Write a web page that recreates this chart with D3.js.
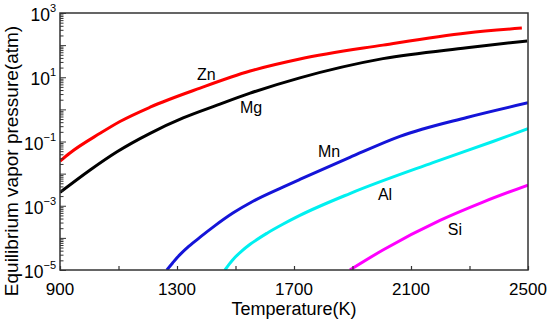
<!DOCTYPE html>
<html><head><meta charset="utf-8">
<script src="https://cdn.jsdelivr.net/npm/d3@7"></script>
<style>body{margin:0;background:#fff}svg{display:block}text{font-family:"Liberation Sans",Arial,sans-serif;fill:#000}</style>
</head><body>
<script>
// Temperature (K) and equilibrium vapor pressure (atm)
const znT = [900, 934, 1037, 1105, 1208, 1379, 1550, 1720, 2004, 2291, 2479];
const znP = [0.0245, 0.044, 0.18, 0.42, 1.17, 4.6, 15.6, 37, 100, 240, 340];
const mgT = [900, 1003, 1095, 1208, 1321, 1437, 1550, 1720, 2004, 2291, 2497];
const mgP = [0.0026, 0.013, 0.048, 0.18, 0.54, 1.35, 3.2, 9.6, 38, 83, 135];
const mnT = [1265, 1285, 1300, 1340, 1379, 1430, 1491, 1560, 1662, 1720, 1891, 2062, 2291, 2500];
const mnP = [1e-5, 1.66e-5, 2.4e-5, 5.4e-5, 1.05e-4, 2.4e-4, 5.9e-4, 1.38e-3, 3.8e-3, 6.6e-3, 0.032, 0.145, 0.56, 1.6];
const alT = [1464, 1480, 1491, 1520, 1550, 1608, 1660, 1720, 1891, 2175, 2380, 2500];
const alP = [1e-5, 1.58e-5, 2.1e-5, 3.8e-5, 6.3e-5, 1.4e-4, 2.6e-4, 5.0e-4, 2.4e-3, 0.022, 0.1, 0.25];
const siT = [1891, 2004, 2199, 2346, 2500];
const siP = [1e-5, 4.2e-5, 3.5e-4, 1.3e-3, 4.4e-3];
const seriesNames = ["Zn", "Mg", "Mn", "Al", "Si"];
const seriesColors = ["#ff0000", "#000000", "#1414d8", "#00f0f0", "#ff00ff"];
const labelT = [1368, 1515, 1782, 1987, 2226];
const labelP = [8.2, 0.77, 0.032, 1.5e-3, 1.2e-4];
const xTickValues = [900, 1300, 1700, 2100, 2500];
const yTickExps = [-5, -3, -1, 1, 3];

const W = 550, H = 320;
const m = {l: 60, r: 528, t: 13, b: 270};
const svg = d3.select("body").append("svg").attr("width", W).attr("height", H);
const x = d3.scaleLinear().domain([900, 2500]).range([m.l, m.r]);
const y = d3.scaleLog().domain([1e-5, 1e3]).range([m.b, m.t]);

svg.append("clipPath").attr("id", "clip").append("rect")
  .attr("x", m.l).attr("y", m.t).attr("width", m.r - m.l).attr("height", m.b - m.t);

const allT = [znT, mgT, mnT, alT, siT];
const allP = [znP, mgP, mnP, alP, siP];
const line = d3.line().x(d => x(d[0])).y(d => y(d[1])).curve(d3.curveMonotoneX);
const g = svg.append("g").attr("clip-path", "url(#clip)");
seriesNames.forEach((n, i) => {
  const pts = allT[i].map((t, j) => [t, allP[i][j]]);
  g.append("path").datum(pts).attr("d", line).attr("fill", "none")
    .attr("stroke", seriesColors[i]).attr("stroke-width", 3).attr("stroke-linejoin", "round");
});

// labels
seriesNames.forEach((n, i) => {
  svg.append("text").attr("x", x(labelT[i])).attr("y", y(labelP[i]))
    .attr("font-size", 16).text(n);
});

// frame
svg.append("rect").attr("x", m.l).attr("y", m.t).attr("width", m.r - m.l).attr("height", m.b - m.t)
  .attr("fill", "none").attr("stroke", "#333").attr("stroke-width", 1.5);

// x axis ticks (inward)
const xAxis = d3.axisBottom(x).tickValues(d3.range(900, 2501, 200)).tickSize(-4).tickFormat("");
const gx = svg.append("g").attr("transform", `translate(0,${m.b})`).call(xAxis);
gx.select(".domain").remove();
gx.selectAll("line").attr("stroke", "#333").attr("stroke-width", 1.2);
xTickValues.forEach(v => {
  svg.append("text").attr("x", x(v)).attr("y", 295).attr("text-anchor", "middle")
    .attr("font-size", 17).text(v);
});

// y axis ticks (inward) with log minor ticks
const minor = [];
for (let e = -5; e < 3; e++) for (let k = 1; k < 10; k++) minor.push(k * Math.pow(10, e));
minor.push(1000);
const yAxis = d3.axisLeft(y).tickValues(minor).tickSize(0).tickFormat("");
const gy = svg.append("g").attr("transform", `translate(${m.l},0)`).call(yAxis);
gy.select(".domain").remove();
gy.selectAll(".tick line").attr("x2", d => {
  const l = Math.log10(d);
  return Math.abs(l - Math.round(l)) < 1e-9 ? 6 : 3.5;
}).attr("stroke", "#333").attr("stroke-width", 1);

yTickExps.forEach(e => {
  const t = svg.append("text").attr("x", 56).attr("y", y(Math.pow(10, e)) + 8)
    .attr("text-anchor", "end").attr("font-size", 17.5);
  t.append("tspan").text("10");
  t.append("tspan").attr("font-size", 11).attr("dy", -9).text(e < 0 ? "\u2212" + (-e) : String(e));
});

// axis titles
svg.append("text").attr("x", 294).attr("y", 315).attr("text-anchor", "middle")
  .attr("font-size", 18).text("Temperature(K)");
svg.append("text").attr("transform", `translate(17.5,161) rotate(-90)`)
  .attr("text-anchor", "middle").attr("font-size", 19).text("Equilibrium vapor pressure(atm)");
</script>
</body></html>
